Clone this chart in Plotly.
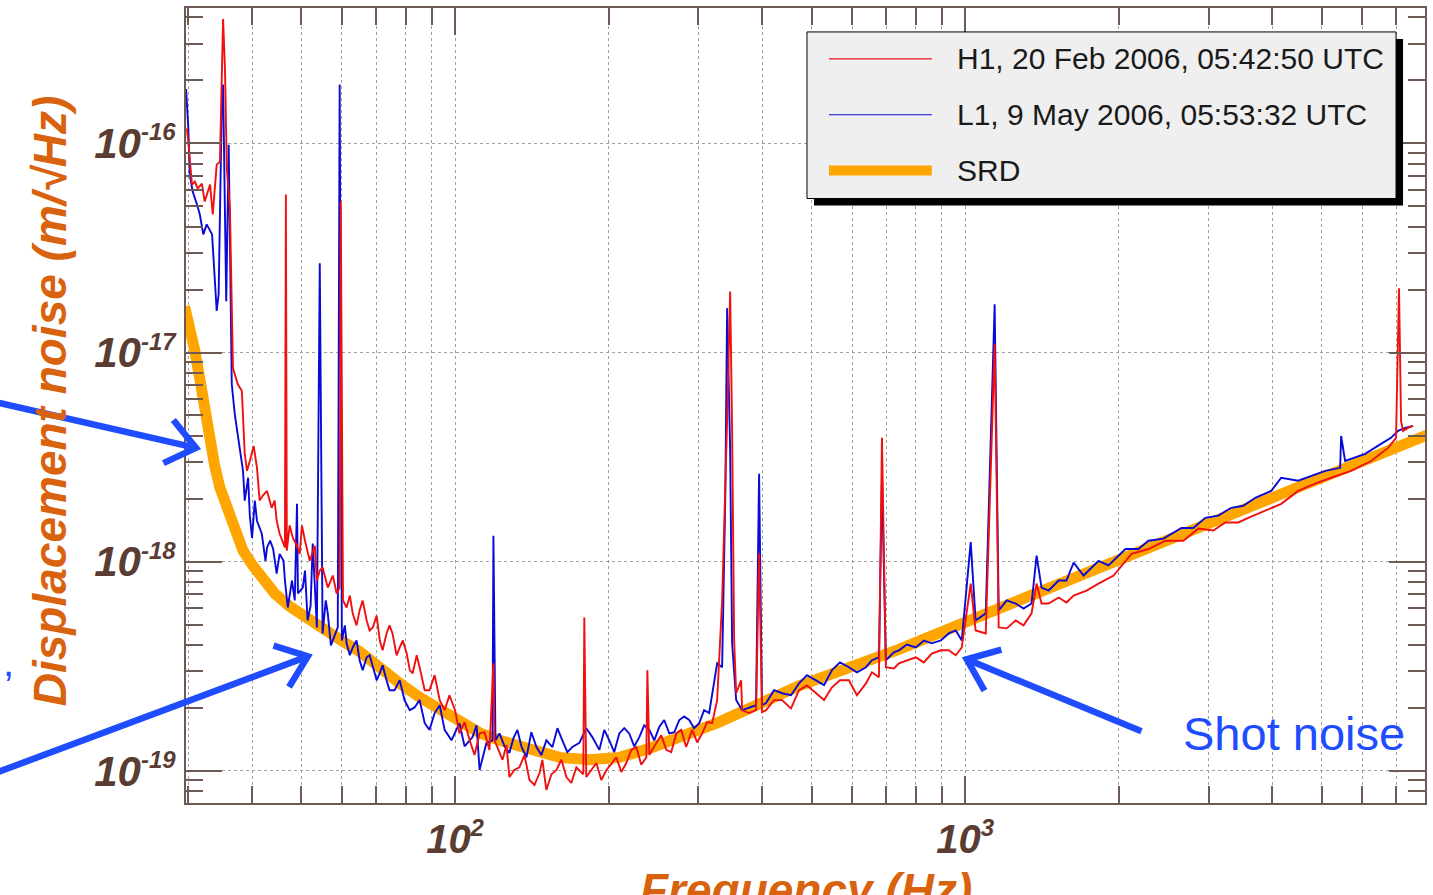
import math
import plotly.graph_objects as go

# ---------------- data ----------------
srd_freq = [29.5, 30.2, 30.9, 31.6, 32.3, 33.1, 33.8, 34.6, 35.7, 37.0, 38.4, 40.0,
            42.0, 44.3, 47.4, 50.8, 54.3, 59.4, 65.0, 71.2, 77.9, 85.2, 93.3, 102,
            111.7, 122.2, 139.9, 160.2, 183.3, 209.9, 240.3, 275.1, 301, 329.3,
            472.3, 741.3, 1163, 1825, 2864, 4494, 8072]
srd_noise = [1.66e-17, 1.34e-17, 1.02e-17, 7.47e-18, 5.25e-18, 3.78e-18, 2.87e-18,
             2.26e-18, 1.79e-18, 1.41e-18, 1.13e-18, 9.69e-19, 8.13e-19, 7.05e-19,
             6.11e-19, 5.41e-19, 4.85e-19, 4.25e-19, 3.72e-19, 3.09e-19, 2.62e-19,
             2.25e-19, 1.95e-19, 1.71e-19, 1.52e-19, 1.40e-19, 1.26e-19, 1.16e-19,
             1.13e-19, 1.16e-19, 1.28e-19, 1.43e-19, 1.57e-19, 1.71e-19, 2.55e-19,
             3.81e-19, 5.97e-19, 9.27e-19, 1.45e-18, 2.28e-18, 4.05e-18]

h1_freq = [29.8, 30.0, 30.5, 30.9, 31.3, 31.9, 32.3, 33.1, 33.5, 34.1, 34.6, 35.1, 35.4,
           35.7, 36.2, 36.7, 37.5, 38.2, 38.7, 39.6, 40.9, 41.4, 42.8, 43.7, 44.7, 45.3,
           46.4, 46.6, 46.8, 48.1, 49.6, 50.8, 51.9, 53.6, 55.0, 56.3, 58.6, 59.4, 59.7,
           60.3, 61.3, 63.0, 65.0, 67.1, 69.0, 71.2, 73.4, 75.4, 77.9, 80.4, 82.6, 85.2,
           89.1, 93.3, 100, 102, 106.8, 111.7, 116.8, 118.9, 119.5, 123.9, 127.8, 133.7,
           139.9, 146.4, 151.0, 158.0, 165.3, 172.9, 178.4, 179.2, 180.8, 189.2, 198.0,
           207.0, 216.6, 226.6, 237.1, 238.2, 240.3, 248.0, 259.4, 271.4, 283.8, 291.6,
           305.1, 319.1, 326.4, 333.8, 341.4, 346.1, 349.2, 352.4, 355.6, 363.7, 365.3,
           377.0, 389.0, 394.4, 399.6, 407.0, 437.5, 472.3, 509.9, 548.0, 591.6, 638.9,
           677.4, 686.7, 698.9, 741.3, 800.1, 859.9, 928.4, 984.5, 1025, 1048, 1097,
           1142, 1163, 1256, 1349, 1380, 1411, 1524, 1631, 1825, 2118, 2469, 2864, 3234,
           3587, 3873, 4162, 4494, 4852, 5216, 5706, 6245, 6742, 6989, 7084, 7149, 7213,
           7378, 7546]
h1_noise = [1.18e-16, 1.02e-16, 6.35e-17, 6.57e-17, 6.08e-17, 6.42e-17, 5.27e-17, 6.35e-17,
            4.57e-17, 7.91e-17, 8.18e-17, 3.93e-16, 2.27e-16, 7.57e-17, 4.88e-17, 8.42e-18,
            7.07e-18, 6.55e-18, 3.28e-18, 3.03e-18, 2.81e-18, 1.96e-18, 2.18e-18, 1.81e-18,
            1.57e-18, 1.36e-18, 1.17e-18, 5.69e-17, 1.13e-18, 1.30e-18, 1.09e-18, 1.26e-18,
            1.01e-18, 8.13e-19, 9.37e-19, 7.52e-19, 7.05e-19, 7.52e-19, 5.27e-17, 6.53e-19,
            6.04e-19, 5.66e-19, 5.85e-19, 5.24e-19, 4.85e-19, 4.20e-19, 4.54e-19, 4.54e-19,
            3.89e-19, 3.64e-19, 2.93e-19, 3.13e-19, 2.43e-19, 2.18e-19, 1.95e-19, 1.51e-19,
            1.40e-19, 1.51e-19, 1.26e-19, 3.27e-19, 1.40e-19, 1.13e-19, 9.34e-20, 1.04e-19,
            9.04e-20, 9.76e-20, 8.10e-20, 1.01e-19, 9.34e-20, 1.04e-19, 9.63e-20, 5.41e-19,
            9.34e-20, 1.09e-19, 1.01e-19, 1.16e-19, 1.09e-19, 1.30e-19, 1.16e-19, 3.03e-19,
            1.19e-19, 1.36e-19, 1.26e-19, 1.51e-19, 1.30e-19, 1.57e-19, 1.51e-19, 1.69e-19,
            2.18e-19, 6.53e-19, 4.71e-18, 1.96e-17, 4.22e-18, 4.20e-19, 2.35e-19, 2.71e-19,
            1.95e-19, 1.89e-19, 1.95e-19, 1.09e-18, 1.91e-19, 1.95e-19, 2.18e-19, 2.43e-19,
            2.35e-19, 2.51e-19, 2.71e-19, 2.62e-19, 2.80e-19, 3.91e-18, 3.13e-19, 3.27e-19,
            3.49e-19, 3.64e-19, 3.77e-19, 3.89e-19, 7.86e-19, 4.69e-19, 4.54e-19, 1.10e-17,
            4.85e-19, 5.24e-19, 5.66e-19, 7.86e-19, 6.31e-19, 6.74e-19, 6.89e-19, 7.86e-19,
            1.09e-18, 1.26e-18, 1.44e-18, 1.54e-18, 1.62e-18, 1.75e-18, 1.89e-18, 2.18e-18,
            2.36e-18, 2.52e-18, 2.72e-18, 3.03e-18, 3.50e-18, 3.91e-18, 2.03e-17, 4.71e-18,
            4.22e-18, 4.36e-18, 4.46e-18]
# extra readings of the H1 noise wiggles between the points above
h1_fine_freq = [39.1, 40.3, 42.0, 44.3, 47.4, 49.0, 50.1, 53.1, 54.3, 57.6, 62.2, 64.1,
                65.9, 68.0, 70.2, 72.1, 74.4, 76.8, 79.0, 81.5, 84.1, 87.2, 91.2, 95.4,
                97.5, 104.4, 109.2, 114.2, 126.1, 130.7, 136.8, 143.1, 148.3, 154.5, 161.6,
                169.0, 185.0, 193.5, 202.5, 211.8, 221.5, 231.7, 253.6, 265.3, 277.5, 298.3,
                312.0, 421.9, 455.5, 489.6, 528.7, 568.1, 613.4, 656.2, 724.7, 768.6, 829.6,
                895.6, 958.2, 1206, 1301, 1457, 1579, 1729, 1953, 2286, 2677, 3064, 3429]
h1_fine_noise = [2.72e-18, 3.57e-18, 2.07e-18, 1.96e-18, 1.49e-18, 1.19e-18, 1.49e-18,
                 1.19e-18, 9.07e-19, 8.59e-19, 6.89e-19, 4.96e-19, 6.53e-19, 4.69e-19,
                 5.53e-19, 3.77e-19, 4.96e-19, 3.57e-19, 4.20e-19, 3.03e-19, 3.57e-19,
                 2.43e-19, 2.87e-19, 1.95e-19, 2.30e-19, 1.71e-19, 1.19e-19, 1.53e-19,
                 1.33e-19, 1.01e-19, 1.19e-19, 8.56e-20, 1.13e-19, 9.63e-20, 1.13e-19,
                 8.75e-20, 1.01e-19, 9.04e-20, 1.08e-19, 9.87e-20, 1.26e-19, 1.07e-19,
                 1.48e-19, 1.23e-19, 1.57e-19, 1.37e-19, 1.71e-19, 2.18e-19, 1.99e-19,
                 2.56e-19, 2.18e-19, 2.71e-19, 2.30e-19, 2.96e-19, 3.09e-19, 3.38e-19,
                 3.30e-19, 3.77e-19, 3.57e-19, 4.80e-19, 4.96e-19, 6.31e-19, 6.38e-19,
                 7.28e-19, 8.59e-19, 1.15e-18, 1.26e-18, 1.41e-18, 1.54e-18]

l1_freq = [29.7, 30.0, 30.2, 30.6, 31.2, 31.6, 32.1, 32.6, 33.4, 34.1, 34.4, 34.9, 35.1,
           35.6, 36.0, 36.5, 37.0, 37.9, 38.7, 39.3, 40.0, 40.9, 41.8, 42.8, 43.4, 44.7,
           45.3, 46.4, 47.0, 47.9, 49.0, 49.2, 50.3, 51.4, 52.6, 53.6, 54.3, 55.0, 56.3,
           57.6, 58.9, 59.4, 60.0, 61.3, 63.0, 65.0, 67.1, 69.0, 71.2, 73.4, 76.1, 79.6,
           83.3, 87.2, 91.2, 95.4, 102, 108.2, 111.7, 115.2, 118.4, 118.9, 120.0, 122.2,
           127.8, 132.5, 138.0, 144.4, 151.0, 155.2, 162.3, 169.8, 175.3, 185.8, 191.8,
           200.6, 209.9, 219.5, 229.7, 240.3, 251.3, 263.0, 275.1, 287.7, 301.0, 314.8,
           326.4, 333.8, 338.5, 341.4, 346.1, 349.2, 355.6, 365.3, 377.0, 389.0, 394.4,
           399.6, 407.0, 437.5, 472.3, 509.9, 548.0, 591.6, 638.9, 677.4, 686.7, 698.9,
           741.3, 800.1, 859.9, 928.4, 984.5, 1025, 1048, 1097, 1142, 1163, 1256, 1349,
           1380, 1411, 1524, 1631, 1706, 1825, 2061, 2286, 2653, 2955, 3322, 3703, 3979,
           4162, 4494, 5077, 5431, 5455, 5554, 6079, 6531, 6833, 7052, 7278, 7546]
l1_noise = [1.82e-16, 1.18e-16, 7.09e-17, 5.88e-17, 5.10e-17, 4.57e-17, 3.67e-17, 4.10e-17,
            3.67e-17, 1.58e-17, 1.90e-17, 1.58e-16, 1.91e-16, 1.76e-17, 9.86e-17, 7.07e-18,
            5.08e-18, 3.50e-18, 1.96e-18, 2.52e-18, 1.30e-18, 1.57e-18, 1.36e-18, 1.17e-18,
            1.26e-18, 8.78e-19, 1.09e-18, 8.13e-19, 6.04e-19, 8.13e-19, 1.89e-18, 7.05e-19,
            7.52e-19, 5.24e-19, 1.22e-18, 4.85e-19, 2.67e-17, 4.54e-19, 5.66e-19, 4.20e-19,
            4.85e-19, 1.91e-16, 4.20e-19, 4.07e-19, 3.89e-19, 3.38e-19, 3.49e-19, 3.13e-19,
            2.93e-19, 2.71e-19, 2.43e-19, 2.18e-19, 2.01e-19, 1.69e-19, 1.89e-19, 1.57e-19,
            1.69e-19, 1.45e-19, 1.01e-19, 1.36e-19, 1.40e-19, 1.33e-18, 1.40e-19, 1.51e-19,
            1.22e-19, 1.57e-19, 1.16e-19, 1.30e-19, 1.40e-19, 1.30e-19, 1.40e-19, 1.30e-19,
            1.36e-19, 1.45e-19, 1.26e-19, 1.40e-19, 1.51e-19, 1.51e-19, 1.45e-19, 1.57e-19,
            1.62e-19, 1.51e-19, 1.75e-19, 1.75e-19, 1.69e-19, 1.89e-19, 3.27e-19, 3.13e-19,
            1.96e-18, 1.63e-17, 3.39e-18, 4.07e-19, 2.18e-19, 1.95e-19, 2.01e-19, 2.06e-19,
            2.63e-18, 2.06e-19, 2.11e-19, 2.35e-19, 2.62e-19, 2.71e-19, 3.03e-19, 3.13e-19,
            3.13e-19, 3.49e-19, 2.49e-18, 3.38e-19, 3.77e-19, 3.89e-19, 4.07e-19, 4.54e-19,
            4.20e-19, 1.24e-18, 5.24e-19, 5.66e-19, 1.70e-17, 5.85e-19, 6.31e-19, 6.31e-19,
            1.07e-18, 7.52e-19, 8.13e-19, 9.90e-19, 8.59e-19, 1.01e-18, 1.15e-18, 1.26e-18,
            1.45e-18, 1.62e-18, 1.81e-18, 2.02e-18, 2.18e-18, 2.52e-18, 2.44e-18, 2.72e-18,
            2.81e-18, 3.99e-18, 3.03e-18, 3.28e-18, 3.66e-18, 3.91e-18, 4.22e-18, 4.36e-18,
            4.46e-18]
# extra readings of the L1 noise wiggles between the points above
l1_fine_freq = [38.4, 39.6, 40.5, 42.5, 44.0, 46.1, 48.5, 50.8, 52.1, 55.8, 57.1, 60.8,
                62.2, 64.1, 65.9, 68.0, 70.2, 72.1, 74.4, 77.9, 81.5, 85.2, 89.1, 93.3,
                98.4, 104.4, 110.2, 125.0, 130.1, 134.9, 141.1, 147.6, 158.7, 166.0, 180.8,
                196.1, 205.1, 214.6, 224.5, 234.8, 245.7, 257.0, 268.9, 281.2, 294.2, 307.7,
                421.9, 455.5, 489.6, 528.7, 568.1, 613.4, 656.2, 724.7, 768.6, 829.6, 895.6,
                958.2, 1206, 1301, 1457, 1579, 1909, 2186, 2447, 2800, 3134, 3508]
l1_fine_noise = [2.72e-18, 1.66e-18, 1.96e-18, 1.01e-18, 1.15e-18, 1.01e-18, 6.53e-19,
                 9.07e-19, 6.17e-19, 6.53e-19, 3.98e-19, 4.96e-19, 3.57e-19, 4.20e-19,
                 3.03e-19, 3.57e-19, 2.71e-19, 3.20e-19, 2.43e-19, 2.71e-19, 1.95e-19,
                 2.18e-19, 1.57e-19, 2.06e-19, 1.40e-19, 1.31e-19, 1.65e-19, 1.31e-19,
                 1.43e-19, 1.31e-19, 1.53e-19, 1.19e-19, 1.60e-19, 1.23e-19, 1.60e-19,
                 1.57e-19, 1.23e-19, 1.60e-19, 1.31e-19, 1.65e-19, 1.40e-19, 1.75e-19,
                 1.53e-19, 1.82e-19, 1.60e-19, 1.95e-19, 2.43e-19, 2.30e-19, 2.87e-19,
                 2.57e-19, 3.30e-19, 2.96e-19, 3.38e-19, 3.69e-19, 4.02e-19, 4.20e-19,
                 4.20e-19, 4.69e-19, 6.53e-19, 5.97e-19, 7.28e-19, 8.13e-19, 9.60e-19,
                 1.15e-18, 1.29e-18, 1.45e-18, 1.66e-18, 1.85e-18]

x_major = [100, 1000]
x_major_exp = ["2", "3"]
x_minor = [30, 40, 50, 60, 70, 80, 90, 200, 300, 400, 500, 600, 700, 800, 900,
           2000, 3000, 4000, 5000, 6000, 7000, 8000]
y_major = [1e-19, 1e-18, 1e-17, 1e-16]
y_major_exp = ["-19", "-18", "-17", "-16"]
y_minor = [8e-20, 9e-20] + [m * 10.0 ** e for e in (-19, -18, -17) for m in range(2, 10)] + [2e-16, 3e-16, 4e-16]

legend_labels = ["H1, 20 Feb 2006, 05:42:50 UTC", "L1, 9 May 2006, 05:53:32 UTC", "SRD"]


def merged(f_a, v_a, f_b, v_b):
    pairs = sorted(zip(f_a + f_b, v_a + v_b), key=lambda p: p[0])
    return [p[0] for p in pairs], [p[1] for p in pairs]


h1_x, h1_y = merged(h1_freq, h1_noise, h1_fine_freq, h1_fine_noise)
l1_x, l1_y = merged(l1_freq, l1_noise, l1_fine_freq, l1_fine_noise)

# ---------------- styling ----------------
W, H = 1433, 895
ML, MR, MT, MB = 186, 6, 6, 92
PW, PH = W - ML - MR, H - MT - MB
RED, BLUE, ORANGE = "#f01010", "#0a0ad8", "#ffa500"
ARROW = "#1f4cff"
TICKC = "#5a3c32"
TITLEC = "#d9620e"
AXC = "#6e5a55"
GRIDC = "#a0a0a0"
FONT = "Liberation Sans"


def P(x, y):
    """pixel -> paper coordinates"""
    return (x - ML) / PW, (H - MB - y) / PH


fig = go.Figure()
fig.add_trace(go.Scatter(x=srd_freq, y=srd_noise, mode="lines", name=legend_labels[2],
                         line=dict(color=ORANGE, width=11), showlegend=False))
fig.add_trace(go.Scatter(x=l1_x, y=l1_y, mode="lines", name=legend_labels[1],
                         line=dict(color=BLUE, width=1.9), showlegend=False))
fig.add_trace(go.Scatter(x=h1_x, y=h1_y, mode="lines", name=legend_labels[0],
                         line=dict(color=RED, width=1.9), showlegend=False))

shapes = []
annotations = []

# legend box with drop shadow
x0, y0 = P(815, 37); x1, y1 = P(1405, 204)
shapes.append(dict(type="rect", xref="paper", yref="paper", x0=x0, y0=y0, x1=x1, y1=y1,
                   fillcolor="black", line=dict(width=0), layer="above"))
x0, y0 = P(808, 30); x1, y1 = P(1398, 197)
shapes.append(dict(type="rect", xref="paper", yref="paper", x0=x0, y0=y0, x1=x1, y1=y1,
                   fillcolor="#efefef", line=dict(color="black", width=1), layer="above"))
for lab, col, wid, yy in zip(legend_labels, [RED, BLUE, ORANGE], [1.2, 1.2, 10], [57, 113, 169]):
    a0, b0 = P(830, yy); a1, b1 = P(933, yy)
    shapes.append(dict(type="line", xref="paper", yref="paper", x0=a0, y0=b0, x1=a1, y1=b1,
                       line=dict(color=col, width=wid), layer="above"))
    tx, ty = P(956, yy)
    annotations.append(dict(text=lab, xref="paper", yref="paper", x=tx, y=ty,
                            xanchor="left", yanchor="middle", showarrow=False,
                            font=dict(family=FONT, size=30, color="#1a1a1a")))


# blue arrows with open chevron heads
def arrow(tail, head, wing=36, ang=38):
    dx, dy = tail[0] - head[0], tail[1] - head[1]
    L = math.hypot(dx, dy)
    ux, uy = dx / L, dy / L
    pts = []
    for s in (1, -1):
        a = math.radians(ang * s)
        wx = ux * math.cos(a) - uy * math.sin(a)
        wy = ux * math.sin(a) + uy * math.cos(a)
        pts.append((head[0] + wing * wx, head[1] + wing * wy))
    t = P(*tail); h = P(*head); w1 = P(*pts[0]); w2 = P(*pts[1])
    path = (f"M {t[0]},{t[1]} L {h[0]},{h[1]} "
            f"M {w1[0]},{w1[1]} L {h[0]},{h[1]} L {w2[0]},{w2[1]}")
    shapes.append(dict(type="path", xref="paper", yref="paper", path=path,
                       line=dict(color=ARROW, width=6.5), layer="above"))


arrow((-5, 401), (196, 447))
arrow((-5, 773), (308, 656))
arrow((1143, 731), (968, 659))

tx, ty = P(1296, 733)
annotations.append(dict(text="Shot noise", xref="paper", yref="paper", x=tx, y=ty,
                        xanchor="center", yanchor="middle", showarrow=False,
                        font=dict(family=FONT, size=47, color=ARROW)))
tx, ty = P(8, 662)
annotations.append(dict(text=",", xref="paper", yref="paper", x=tx, y=ty,
                        xanchor="center", yanchor="middle", showarrow=False,
                        font=dict(family=FONT, size=40, color=ARROW)))

# axis titles (the x title is cut by the bottom edge, as in the reference)
tx, ty = P(807, 890)
annotations.append(dict(text="<b><i>Frequency (Hz)</i></b>", xref="paper", yref="paper",
                        x=tx, y=ty, xanchor="center", yanchor="middle", showarrow=False,
                        font=dict(family=FONT, size=46, color=TITLEC)))
tx, ty = P(50, 400)
annotations.append(dict(text="<b><i>Displacement noise (m/√Hz)</i></b>", xref="paper",
                        yref="paper", x=tx, y=ty, xanchor="center", yanchor="middle",
                        textangle=-90, showarrow=False,
                        font=dict(family=FONT, size=46, color=TITLEC)))


def label(exp, sup_size):
    return f"<b><i>10<sup><span style='font-size:{sup_size}px'>{exp}</span></sup></i></b>"


fig.update_layout(
    width=W, height=H,
    margin=dict(l=ML, r=MR, t=MT, b=MB, pad=0),
    paper_bgcolor="white", plot_bgcolor="white",
    showlegend=False,
    shapes=shapes, annotations=annotations,
    xaxis=dict(
        type="log", range=[1.4726, 3.9012],
        tickmode="array", tickvals=x_major,
        ticktext=[label(e, 24) for e in x_major_exp],
        tickfont=dict(family=FONT, size=40, color=TICKC),
        ticks="inside", ticklen=27, tickwidth=1.5, tickcolor=AXC,
        showline=True, linecolor=AXC, linewidth=2, mirror="allticks",
        showgrid=True, gridcolor=GRIDC, griddash="dot", gridwidth=1,
        zeroline=False,
        minor=dict(tickmode="array", tickvals=x_minor, ticks="inside", ticklen=17,
                   tickwidth=1.5, tickcolor=AXC, showgrid=True, gridcolor=GRIDC,
                   griddash="dot", gridwidth=1),
    ),
    yaxis=dict(
        type="log", range=[-19.1536, -15.3529],
        tickmode="array", tickvals=y_major,
        ticktext=[label(e, 24) for e in y_major_exp],
        tickfont=dict(family=FONT, size=42, color=TICKC),
        ticks="inside", ticklen=36, tickwidth=1.5, tickcolor=AXC,
        showline=True, linecolor=AXC, linewidth=2, mirror="allticks",
        showgrid=True, gridcolor=GRIDC, griddash="dot", gridwidth=1,
        zeroline=False,
        minor=dict(tickmode="array", tickvals=y_minor, ticks="inside", ticklen=17,
                   tickwidth=1.5, tickcolor=AXC, showgrid=False),
    ),
)

fig.write_html("out.html", config={"displayModeBar": False},
               post_script="document.body.style.margin='0';")
